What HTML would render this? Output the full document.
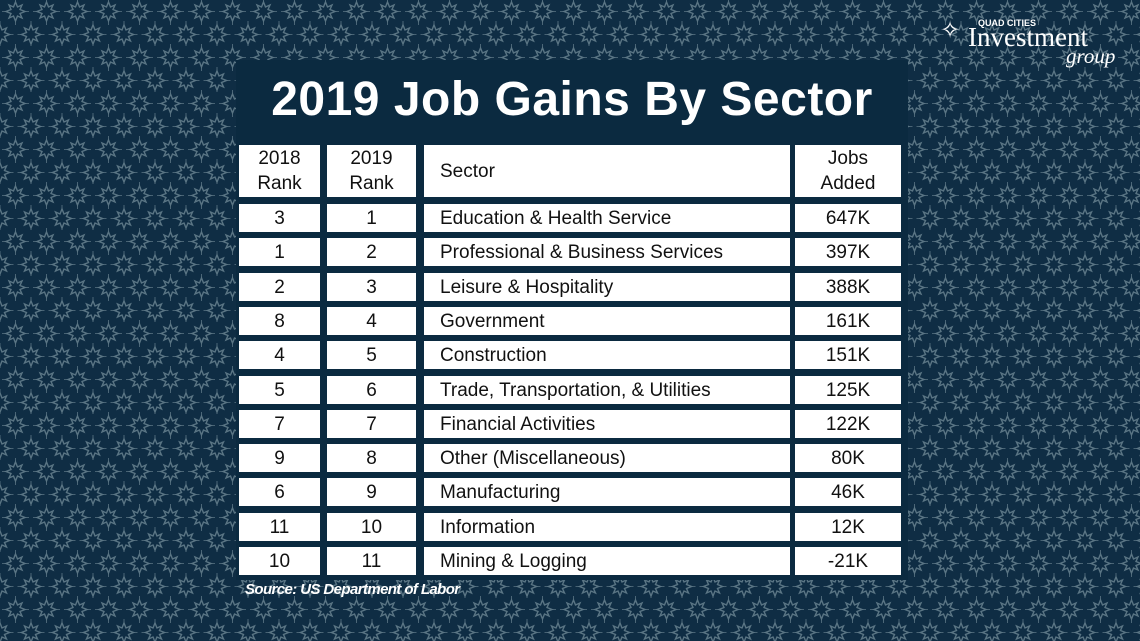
<!DOCTYPE html>
<html><head><meta charset="utf-8"><style>
body{margin:0;width:1140px;height:641px;overflow:hidden;background:#0f2d44;font-family:"Liberation Sans",sans-serif}
#bg{position:absolute;left:0;top:0}
#panel{position:absolute;left:236px;top:60px;width:672px;height:520px;background:#0b2a40}
#title{position:absolute;left:236px;top:72px;width:672px;text-align:center;color:#fff;font-size:48px;font-weight:bold;letter-spacing:0.5px}
.c{position:absolute;background:#fff;color:#111;font-size:19px;display:flex;align-items:center;justify-content:center;text-align:center;line-height:25px}
.c.l{justify-content:flex-start;padding-left:16px;box-sizing:border-box}
#src{position:absolute;left:245px;top:581px;color:#fff;font-style:italic;font-weight:bold;font-size:15px;letter-spacing:-0.6px}
#logo{position:absolute;left:940px;top:16px;color:#fff;font-family:"Liberation Serif",serif}
</style></head><body>
<svg id="bg" width="1140" height="641">
<defs><pattern id="p" width="31" height="46" patternUnits="userSpaceOnUse">
<g id="s" fill="none" stroke="#5a7584" stroke-width="1.4">
<path d="M15.5,6 L17.5,11 L22,9 L20,13.5 L25,15.5 L20,17.5 L22,22 L17.5,20 L15.5,25 L13.5,20 L9,22 L11,17.5 L6,15.5 L11,13.5 L9,9 L13.5,11 Z" transform="translate(0,-4)"/>
<path d="M15.5,2 V6 M15.5,25 V29 M2,15.5 H6 M25,15.5 H29" stroke-width="0.8" transform="translate(0,-4)"/>
</g>
<use href="#s" x="-15.5" y="23"/><use href="#s" x="15.5" y="23"/><use href="#s" x="0" y="46"/>
</pattern></defs>
<rect width="1140" height="641" fill="url(#p)"/>
</svg>
<div id="panel"></div>
<div id="title">2019 Job Gains By Sector</div>
<div id="logo"><span style="font-size:24px">✧</span><span style="font-family:'Liberation Sans';font-size:9px;font-weight:bold;position:absolute;left:38px;top:2px;white-space:nowrap">QUAD CITIES</span><span style="font-size:27px;position:absolute;left:28px;top:6px">Investment</span><span style="font-size:21px;font-style:italic;position:absolute;left:126px;top:28px">group</span></div>
<div id="tbl"></div>
<div id="src">Source: US Department of Labor</div>
<script>
const rank2018=[3,1,2,8,4,5,7,9,6,11,10];
const rank2019=[1,2,3,4,5,6,7,8,9,10,11];
const sectors=["Education & Health Service","Professional & Business Services","Leisure & Hospitality","Government","Construction","Trade, Transportation, & Utilities","Financial Activities","Other (Miscellaneous)","Manufacturing","Information","Mining & Logging"];
const jobs=["647K","397K","388K","161K","151K","125K","122K","80K","46K","12K","-21K"];
const cols=[[239,81],[327,89],[424,366],[795,106]];
const t=document.getElementById('tbl');
function cell(x,y,w,h,txt,left,name){const d=document.createElement('div');d.className='c'+(left?' l':'');


d.style.cssText=`left:${x}px;top:${y}px;width:${w}px;height:${h}px`;d.innerHTML=txt;t.appendChild(d);}
const hdr=["2018<br>Rank","2019<br>Rank","Sector","Jobs<br>Added"];
hdr.forEach((h,i)=>cell(cols[i][0],145,cols[i][1],52,h,i==2,'header-cell'));
for(let r=0;r<sectors.length;r++){const y=204+r*34.3;const v=[rank2018[r],rank2019[r],sectors[r].replace('&','&amp;'),jobs[r]];
v.forEach((s,i)=>cell(cols[i][0],Math.round(y),cols[i][1],28,s,i==2,'row-cell'));}
</script>
</body></html>
